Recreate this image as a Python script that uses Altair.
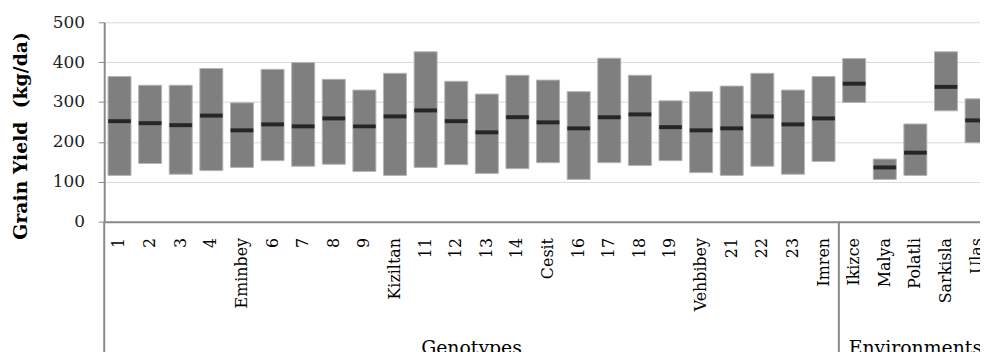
import altair as alt
import pandas as pd

categories = ["1", "2", "3", "4", "Eminbey", "6", "7", "8", "9", "Kiziltan",
              "11", "12", "13", "14", "Cesit", "16", "17", "18", "19", "Vehbibey",
              "21", "22", "23", "Imren", "Ikizce", "Malya", "Polatli", "Sarkisla", "Ulas"]
max_yield = [364, 342, 342, 384, 298, 382, 399, 357, 330, 372,
             426, 352, 320, 367, 355, 326, 410, 367, 303, 326,
             340, 372, 330, 364, 409, 157, 245, 426, 308]
min_yield = [116, 146, 119, 128, 136, 153, 139, 144, 126, 116,
             136, 143, 121, 133, 148, 106, 148, 141, 153, 123,
             116, 139, 119, 151, 299, 106, 116, 278, 198]
mean_yield = [252, 247, 242, 266, 229, 244, 239, 259, 239, 264,
              279, 252, 224, 262, 249, 234, 262, 269, 237, 229,
              234, 264, 244, 259, 346, 136, 173, 338, 254]

groups = ["Genotypes", "Environments"]
group_centers = [12, 26.5]
separators = [0, 24]

FONT = "DejaVu Serif"
GRAY = "#8a8a8a"
STEP = 30.85
N = len(categories)
W = round(STEP * N)      # full category axis; its right end is cut off by the chart edge
H = 201
PAD_LEFT = 97
PAD_RIGHT = 980 - PAD_LEFT - W   # negative: crops the last category like the reference

df = pd.DataFrame({"cat": categories, "lo": min_yield, "hi": max_yield, "mean": mean_yield})
gdf = pd.DataFrame({"label": groups, "pos": group_centers})
sdf = pd.DataFrame({"pos": separators})

xscale = alt.Scale(domain=categories, paddingInner=0.25, paddingOuter=0.125)

x_enc = alt.X("cat:N", sort=categories, scale=xscale,
              axis=alt.Axis(title=None, labelAngle=270, labelAlign="right", labelBaseline="middle",
                            labelFont=FONT, labelFontSize=16, labelColor="#000000",
                            labelPadding=16, ticks=False, tickSize=0,
                            domainColor=GRAY, domainWidth=2, grid=False, labelOverlap=False))

y_enc = alt.Y("lo:Q", scale=alt.Scale(domain=[0, 500], nice=False),
              axis=alt.Axis(title="Grain Yield \u00a0(kg/da)", values=[0, 100, 200, 300, 400, 500],
                            titleFont=FONT, titleFontSize=19, titleFontWeight="bold", titleColor="#000000",
                            titleAngle=270, titleX=-84, titleY=114, titleAlign="center", titleBaseline="middle",
                            labelFont=FONT, labelFontSize=17, labelColor="#222222", labelPadding=14,
                            tickSize=6, tickColor=GRAY, tickWidth=1,
                            domainColor=GRAY, domainWidth=2,
                            grid=True, gridColor="#d9d9d9", gridWidth=1))

bars = alt.Chart(df).mark_bar(color="#7f7f7f", stroke="#b3b3b3", strokeWidth=1).encode(
    x=x_enc, y=y_enc, y2="hi:Q"
)

ticks = alt.Chart(df).mark_tick(color="#000000", thickness=4, size=23).encode(
    x=alt.X("cat:N", sort=categories, scale=xscale),
    y=alt.Y("mean:Q"),
)

qscale = alt.Scale(domain=[0, N])

texts = alt.Chart(gdf).mark_text(font=FONT, fontSize=19, color="#000000", baseline="alphabetic",
                                 align="center").encode(
    x=alt.X("pos:Q", scale=qscale, axis=None),
    y=alt.value(334),
    text="label:N",
)

rules = alt.Chart(sdf).mark_rule(color=GRAY, strokeWidth=2).encode(
    x=alt.X("pos:Q", scale=qscale, axis=None),
    y=alt.value(H),
    y2=alt.value(340),
)

chart = alt.layer(alt.layer(bars, ticks), texts, rules).resolve_scale(x="independent").properties(
    width=W, height=H,
    autosize=alt.AutoSizeParams(type="none"),
    padding={"left": PAD_LEFT, "top": 13, "right": PAD_RIGHT, "bottom": 130},
    background="white",
).configure_view(stroke=None)

chart.save("out.html", embed_options={"renderer": "svg", "actions": False})
